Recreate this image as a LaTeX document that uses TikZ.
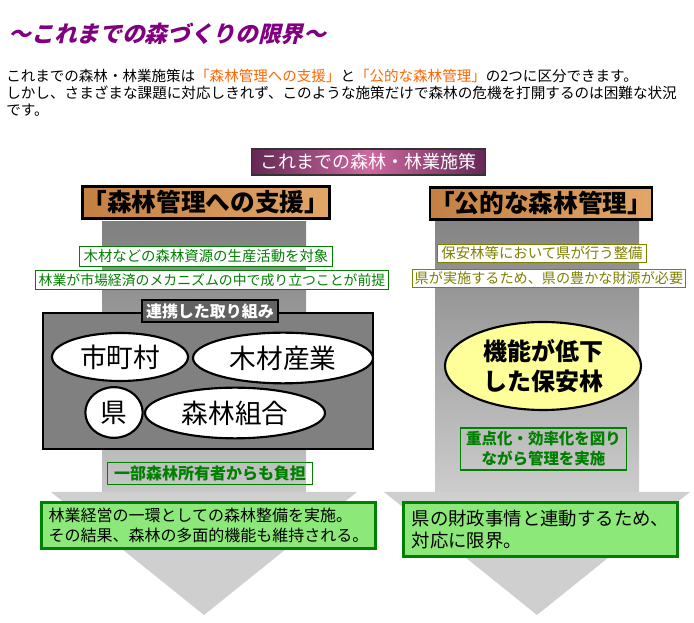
\documentclass[tikz,border=0pt]{standalone}
\usepackage{fontspec}
\setmainfont{Noto Sans CJK JP}
\newfontfamily\titlefont[FakeSlant=0.25]{Noto Sans CJK JP}
\usetikzlibrary{shapes.geometric}
\definecolor{titlepurple}{RGB}{128,0,128}
\definecolor{accentorange}{RGB}{255,102,0}
\definecolor{headdark}{RGB}{100,40,85}
\definecolor{headpink}{RGB}{205,105,160}
\definecolor{woodlight}{RGB}{226,166,104}
\definecolor{wooddark}{RGB}{196,128,66}
\definecolor{leafgreen}{RGB}{0,128,0}
\definecolor{olivetext}{RGB}{128,128,0}
\definecolor{palegreen}{RGB}{140,232,120}
\definecolor{paleyellow}{RGB}{255,255,153}
\begin{document}
\begin{tikzpicture}[x=0.75pt, y=-0.75pt,
        wood/.style={draw=black, line width=2.2pt, left color=wooddark, right color=woodlight,
            minimum height=24pt, inner sep=0pt, font=\fontsize{18.5}{20}\selectfont\bfseries},
        tag/.style={draw=#1, text=#1, fill=white, line width=0.8pt, inner sep=0pt,
            minimum height=14pt, font=\fontsize{10.8}{12}\selectfont},
        bare/.style={draw=leafgreen, text=leafgreen, line width=0.8pt, inner sep=0pt,
            font=\fontsize{12}{15}\selectfont\bfseries, align=center},
        member/.style={draw=black, fill=white, ellipse, line width=1.6pt, inner sep=0pt,
            font=\fontsize{20}{22}\selectfont},
        result/.style={draw=leafgreen, fill=palegreen, line width=2.2pt, inner sep=0pt,
            align=left, text=black}
    ]
        \useasboundingbox (0,0) rectangle (694,623);

        % title and introduction
        \node[anchor=west, text=titlepurple, font=\titlefont\bfseries\fontsize{17}{20}\selectfont] (title) at (4,34) {～これまでの森づくりの限界～};
        \node[anchor=west, inner sep=0pt, font=\fontsize{10.9}{12}\selectfont] (intro1) at (6,76)
            {これまでの森林・林業施策は\textcolor{accentorange}{「森林管理への支援」}と\textcolor{accentorange}{「公的な森林管理」}の2つに区分できます。};
        \node[anchor=west, inner sep=0pt, font=\fontsize{10.95}{12}\selectfont] (intro2) at (6,93)
            {しかし、さまざまな課題に対応しきれず、このような施策だけで森林の危機を打開するのは困難な状況};
        \node[anchor=west, inner sep=0pt, font=\fontsize{10.95}{12}\selectfont] (intro3) at (6,110) {です。};

        % the two big arrows
        \path[top color=black!50, bottom color=black!22] (102,222) rectangle (306,492);
        \path[top color=black!48, bottom color=black!20] (435,222) rectangle (639,492);
        \fill[black!19] (51,492) -- (357,492) -- (204,615) -- cycle;
        \fill[black!19] (384,492) -- (690,492) -- (537,615) -- cycle;

        % heading
        \node[draw=black!80, line width=0.8pt, left color=headdark, right color=headdark, middle color=headpink,
            minimum width=175pt, minimum height=19.5pt, inner sep=0pt, text=white,
            font=\fontsize{13.5}{15}\selectfont] (policy) at (368.5,162) {これまでの森林・林業施策};
        \node[wood, minimum width=180pt] (support) at (206,202.5) {「森林管理への支援」};
        \node[wood, minimum width=160pt] (public) at (541,203.5) {「公的な森林管理」};

        % left column
        \node[tag=leafgreen, minimum width=190pt, minimum height=15.5pt] (target) at (206,256.5) {木材などの森林資源の生産活動を対象};
        \node[tag=leafgreen, minimum width=265pt, font=\fontsize{10.4}{12}\selectfont] (premise) at (212,280) {林業が市場経済のメカニズムの中で成り立つことが前提};
        \draw[fill=black!50, line width=1.6pt] (43,313) rectangle (373,449);
        \node[draw=black, fill=black!62, line width=1.2pt, minimum width=102pt, minimum height=16.5pt, inner sep=0pt,
            text=white, font=\fontsize{12}{14}\selectfont\bfseries] (joint) at (210,311) {連携した取り組み};
        \node[member, minimum width=102pt, minimum height=36pt] (town) at (120,357) {市町村};
        \node[member, minimum width=135pt, minimum height=38pt] (timber) at (283,358) {木材産業};
        \node[member, minimum width=43pt, minimum height=38pt] (pref) at (114,412.5) {県};
        \node[member, minimum width=135pt, minimum height=38pt] (union) at (235,413) {森林組合};
        \node[bare, minimum width=154pt, minimum height=17pt] (owners) at (210,473.5) {一部森林所有者からも負担};

        % right column
        \node[tag=olivetext, minimum width=157pt] (upkeep) at (542,253.5) {保安林等において県が行う整備};
        \node[tag=olivetext, minimum width=205pt, font=\fontsize{10.6}{12}\selectfont] (funds) at (549,278.5) {県が実施するため、県の豊かな財源が必要};
        \node[draw=black, fill=paleyellow, ellipse, line width=1.6pt, minimum width=147pt, minimum height=66pt,
            inner sep=0pt, align=center, font=\fontsize{18}{23}\selectfont\bfseries] (weak) at (543,366) {機能が低下\\した保安林};
        \node[bare, minimum width=125pt, minimum height=31.5pt, font=\fontsize{11.6}{15}\selectfont\bfseries] (focus) at (543.5,449)
            {重点化・効率化を図り\\ながら管理を実施};

        % outcomes
        \node[result, minimum width=250pt, minimum height=34pt, font=\fontsize{12}{15}\selectfont] (leftend) at (208.5,525.5)
            {林業経営の一環としての森林整備を実施。\\その結果、森林の多面的機能も維持される。};
        \node[result, minimum width=205pt, minimum height=40pt, font=\fontsize{13.8}{17}\selectfont] (rightend) at (540.5,529.5)
            {県の財政事情と連動するため、\\対応に限界。};
    \end{tikzpicture}
\end{document}
